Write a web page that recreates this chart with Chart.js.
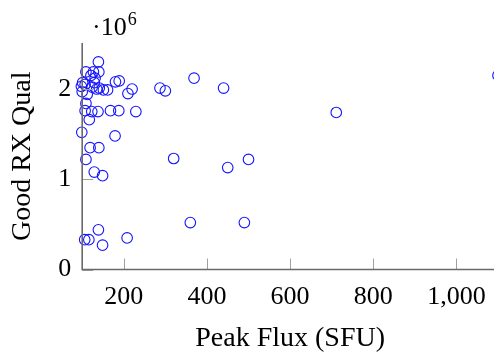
<!DOCTYPE html>
<html>
<head>
<meta charset="utf-8">
<script src="https://cdn.jsdelivr.net/npm/chart.js@4/dist/chart.umd.min.js"></script>
<style>
  html, body { margin: 0; padding: 0; background: #fff; overflow: hidden; }
  #wrap { width: 510px; height: 355px; }
</style>
</head>
<body>
<div id="wrap"><canvas id="c" width="510" height="355"></canvas></div>
<script>
// Peak solar flux (SFU) against count of good RX-quality reports
const peakFlux = [
  139, 109, 127, 140, 121, 131, 101, 107, 129, 98,
  100, 112, 124, 135, 141, 151, 161, 180, 189, 210,
  220, 287, 300, 369, 440, 1100, 109, 107, 123, 138,
  168, 188, 229, 711, 117, 99, 179, 119, 140, 109,
  320, 500, 450, 129, 149, 360, 490, 139, 106, 116,
  149, 208
];
const goodRxQual = [
  2.30, 2.19, 2.19, 2.19, 2.15, 2.12, 2.07, 2.05, 2.07, 2.03,
  1.97, 1.94, 2.02, 2.00, 2.01, 1.99, 1.99, 2.08, 2.09, 1.95,
  2.00, 2.01, 1.98, 2.12, 2.01, 2.15, 1.84, 1.76, 1.75, 1.75,
  1.76, 1.76, 1.75, 1.74, 1.66, 1.52, 1.48, 1.35, 1.35, 1.22,
  1.23, 1.22, 1.13, 1.08, 1.04, 0.52, 0.52, 0.44, 0.33, 0.33,
  0.27, 0.35
].map(v => v * 1e6);

const xTicks = [200, 400, 600, 800, 1000];
const yTicks = [0, 1e6, 2e6];

const SERIF = '"Liberation Serif", "DejaVu Serif", serif';
const AXIS_COLOR = '#6a6a6a';
const TICK_COLOR = '#a0a0a0';

// inward tick marks, the ·10^6 multiplier and the two axis lines
const decor = {
  id: 'decor',
  afterDraw(chart) {
    const { ctx, chartArea: a, scales: { x, y } } = chart;
    ctx.save();
    ctx.strokeStyle = TICK_COLOR;
    ctx.lineWidth = 1;
    xTicks.forEach(v => {
      const px = Math.round(x.getPixelForValue(v)) + 0.5;
      ctx.beginPath(); ctx.moveTo(px, a.bottom); ctx.lineTo(px, a.bottom - 11); ctx.stroke();
    });
    yTicks.forEach(v => {
      const py = Math.round(y.getPixelForValue(v)) + 0.5;
      ctx.beginPath(); ctx.moveTo(a.left, py); ctx.lineTo(a.left + 11, py); ctx.stroke();
    });
    ctx.strokeStyle = AXIS_COLOR;
    ctx.lineWidth = 1.6;
    ctx.beginPath();
    ctx.moveTo(a.left, a.top);
    ctx.lineTo(a.left, a.bottom);
    ctx.lineTo(a.right + 20, a.bottom);
    ctx.stroke();

    ctx.fillStyle = '#000';
    ctx.textBaseline = 'alphabetic';
    ctx.textAlign = 'left';
    ctx.font = '26px ' + SERIF;
    ctx.fillText('·10', 92, 35);
    const w = ctx.measureText('·10').width;
    ctx.font = '18px ' + SERIF;
    ctx.fillText('6', 92 + w + 1, 25);
    ctx.restore();
  }
};

new Chart(document.getElementById('c'), {
  type: 'scatter',
  data: {
    datasets: [{
      data: peakFlux.map((v, i) => ({ x: v, y: goodRxQual[i] })),
      pointStyle: 'circle',
      pointRadius: 5.3,
      pointHoverRadius: 5.3,
      borderWidth: 1.1,
      borderColor: '#1414ff',
      backgroundColor: 'rgba(0,0,0,0)',
      clip: false
    }]
  },
  options: {
    responsive: false,
    animation: false,
    layout: { padding: { top: 43, right: 12, bottom: 0, left: 0 } },
    plugins: { legend: { display: false }, tooltip: { enabled: false } },
    scales: {
      x: {
        type: 'linear',
        min: 100,
        max: 1100,
        afterBuildTicks: s => { s.ticks = xTicks.map(v => ({ value: v })); },
        afterFit: s => { s.height = 85.5; },
        grid: { display: false, drawTicks: false },
        border: { display: false },
        ticks: {
          padding: 12,
          color: '#000',
          font: { family: SERIF, size: 26 },
          maxRotation: 0,
          callback: v => v.toLocaleString('en-US')
        },
        title: {
          display: true,
          text: 'Peak Flux (SFU)',
          color: '#000',
          font: { family: SERIF, size: 28 },
          padding: { top: 9, bottom: 0 }
        }
      },
      y: {
        type: 'linear',
        min: 0,
        max: 2.51e6,
        afterBuildTicks: s => { s.ticks = yTicks.map(v => ({ value: v })); },
        afterFit: s => { s.width = 82.2; },
        grid: { display: false, drawTicks: false },
        border: { display: false },
        ticks: {
          padding: 11,
          color: '#000',
          font: { family: SERIF, size: 26 },
          callback: v => String(v / 1e6)
        },
        title: {
          display: true,
          text: 'Good RX Qual',
          color: '#000',
          font: { family: SERIF, size: 28 },
          padding: { top: 6, bottom: 4 }
        }
      }
    }
  },
  plugins: [decor]
});
</script>
</body>
</html>
